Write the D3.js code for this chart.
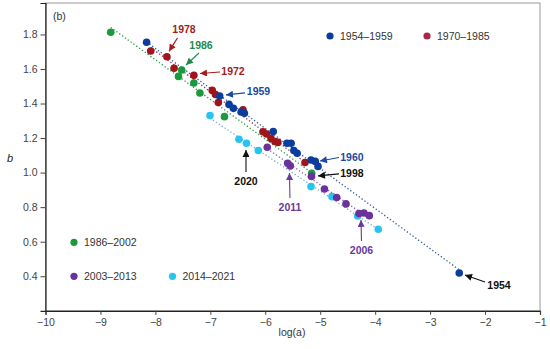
<!DOCTYPE html>
<html><head><meta charset="utf-8">
<script src="https://cdn.jsdelivr.net/npm/d3@7"></script>
<style>body{margin:0;background:#fff}svg{display:block;font-family:"Liberation Sans",Arial,sans-serif}</style>
</head><body><svg id="c" width="550" height="349"></svg>
<script>
// ---- data ----
const seriesNames = ["1954–1959","1970–1985","1986–2002","2003–2013","2014–2021"];
const blueX = [-8.16,-6.83,-6.66,-6.58,-6.44,-6.38,-5.855,-5.605,-5.53,-5.48,-5.42,-5.168,-5.09,-5.04,-2.47];
const blueY = [1.755,1.444,1.395,1.372,1.351,1.343,1.238,1.170,1.170,1.128,1.112,1.073,1.065,1.036,0.419];
const redX = [-8.085,-7.79,-7.66,-7.30,-6.965,-6.906,-6.855,-6.406,-6.042,-5.978,-5.896,-5.823,-5.77,-5.277];
const redY = [1.704,1.671,1.604,1.563,1.476,1.452,1.406,1.363,1.237,1.224,1.198,1.180,1.175,1.059];
const greenX = [-8.813,-7.52,-7.58,-7.30,-7.19,-6.743,-5.156];
const greenY = [1.813,1.594,1.557,1.519,1.461,1.324,0.996];
const purpleX = [-5.964,-5.592,-5.545,-5.159,-4.923,-4.70,-4.531,-4.295,-4.204,-4.107];
const purpleY = [1.147,1.054,1.039,0.978,0.905,0.856,0.819,0.763,0.766,0.751];
const cyanX = [-7.006,-6.479,-6.342,-6.127,-5.168,-4.786,-4.318,-3.943];
const cyanY = [1.331,1.193,1.170,1.128,0.919,0.861,0.749,0.672];
const xTicks = [-10,-9,-8,-7,-6,-5,-4,-3,-2,-1];
const yTicks = [0.4,0.6,0.8,1.0,1.2,1.4,1.6,1.8];
const annYears = ["1978","1986","1972","1959","1960","1998","2020","2011","2006","1954"];
const annTipX = [-7.752,-7.443,-7.188,-6.715,-5.005,-5.041,-6.351,-5.56,-4.258,-2.365];
const annTipY = [1.702,1.623,1.574,1.45,1.067,0.981,1.131,0.998,0.726,0.407];

// ---- styles / layout ----
const colors = {"1954–1959":"#0b3d9c","1970–1985":"#a0141c","1986–2002":"#1a9a3a","2003–2013":"#6a329c","2014–2021":"#28c3ef"};
const legendColors = {"1954–1959":"#0b3d9c","1970–1985":"#a8284a","1986–2002":"#1a9a3a","2003–2013":"#6a329c","2014–2021":"#28c3ef"};
const lineColors = {"1954–1959":"#2a5ea8","1970–1985":"#9a3040","1986–2002":"#2a9a4a","2003–2013":"#8a60b0","2014–2021":"#7ab0c8"};
const annColor = {"1978":"#a51c1c","1972":"#a51c1c","1986":"#1f8a4c","1959":"#1a4aa0","1960":"#1a4aa0","1998":"#111","2020":"#111","1954":"#111","2011":"#6a3a9a","2006":"#6a3a9a"};
const annTail = [[8.5,-13.5],[13,-12],[20,-1.5],[19,-2],[19,-3.5],[21,-2],[0,22],[0.5,25],[0.5,21],[20,7]];
const annText = [[15,-22.5],[15,-20],[33,-2.5],[32.5,-3.5],[32,-4],[34,-2.5],[0,31],[0.5,34],[0.5,30],[34,10]];

const series = [
  {name:"1986–2002", xs:greenX, ys:greenY},
  {name:"1970–1985", xs:redX, ys:redY},
  {name:"1954–1959", xs:blueX, ys:blueY},
  {name:"2014–2021", xs:cyanX, ys:cyanY},
  {name:"2003–2013", xs:purpleX, ys:purpleY}
];

const svg = d3.select("#c");
const x = d3.scaleLinear([-10,-1],[45.5,540]);
const y = d3.scaleLinear([0.2,1.982],[310.8,3]);

const defs = svg.append("defs");
Object.entries(annColor).forEach(([k,c])=>{
  defs.append("marker").attr("id","ah"+k).attr("viewBox","0 0 10 10").attr("refX",10).attr("refY",5)
    .attr("markerWidth",8).attr("markerHeight",7).attr("markerUnits","userSpaceOnUse").attr("orient","auto")
    .append("path").attr("d","M0,0L10,5L0,10z").attr("fill",c);
});

// frame
svg.append("rect").attr("x",45.5).attr("y",3).attr("width",494.5).attr("height",307.8)
  .attr("fill","none").attr("stroke","#999").attr("stroke-width",1);

// axes
const gx = svg.append("g").attr("transform","translate(0,310.8)")
  .call(d3.axisBottom(x).tickValues(xTicks).tickSize(4).tickPadding(4).tickFormat(d3.format("d")));
const gy = svg.append("g").attr("transform","translate(45.5,0)")
  .call(d3.axisLeft(y).tickValues(yTicks).tickSize(5).tickPadding(3).tickFormat(d3.format(".1f")));
[gx,gy].forEach(g=>{
  g.select(".domain").attr("stroke","#222").attr("stroke-width",1.2);
  g.selectAll(".tick line").attr("stroke","#444");
  g.selectAll(".tick text").attr("fill","#444").attr("font-size",10.5).attr("font-family","Liberation Sans, Arial, sans-serif");
});

svg.append("text").attr("x",292).attr("y",336).attr("text-anchor","middle").attr("font-size",10.5).attr("fill","#333").text("log(a)");
svg.append("text").attr("x",7).attr("y",162).attr("font-size",11).attr("font-style","italic").attr("fill","#222").text("b");
svg.append("text").attr("x",53).attr("y",20).attr("font-size",10.5).attr("fill","#333").text("(b)");

// fitted dotted lines
series.forEach(s=>{
  const n=s.xs.length, mx=d3.mean(s.xs), my=d3.mean(s.ys);
  let sxy=0,sxx=0; for(let i=0;i<n;i++){sxy+=(s.xs[i]-mx)*(s.ys[i]-my); sxx+=(s.xs[i]-mx)**2;}
  const k=sxy/sxx, b=my-k*mx;
  const [x0,x1]=d3.extent(s.xs);
  svg.append("line").attr("x1",x(x0)).attr("y1",y(k*x0+b)).attr("x2",x(x1)).attr("y2",y(k*x1+b))
    .attr("stroke",lineColors[s.name]).attr("stroke-width",1.3).attr("stroke-dasharray","1.3,2.2");
});

// points
series.forEach(s=>{
  svg.append("g").selectAll("circle").data(d3.range(s.xs.length)).join("circle")
    .attr("cx",i=>x(s.xs[i])).attr("cy",i=>y(s.ys[i])).attr("r",3.8).attr("fill",colors[s.name]);
});

// annotations
annYears.forEach((yr,i)=>{
  const tx=x(annTipX[i]), ty=y(annTipY[i]);
  svg.append("line").attr("x1",tx+annTail[i][0]).attr("y1",ty+annTail[i][1]).attr("x2",tx).attr("y2",ty)
    .attr("stroke",annColor[yr]).attr("stroke-width",1.1).attr("marker-end","url(#ah"+yr+")");
  svg.append("text").attr("x",tx+annText[i][0]).attr("y",ty+annText[i][1]).attr("dy","0.36em")
    .attr("text-anchor","middle").attr("font-size",10.5).attr("font-weight","bold").attr("fill",annColor[yr]).text(yr);
});

// legend
const legendPos = {"1954–1959":[330,36],"1970–1985":[427,36],"1986–2002":[74,242.3],"2003–2013":[74,276.3],"2014–2021":[172.5,276.3]};
seriesNames.forEach(nm=>{
  const [lx,ly]=legendPos[nm];
  svg.append("circle").attr("cx",lx).attr("cy",ly).attr("r",3.6).attr("fill",legendColors[nm]);
  svg.append("text").attr("x",lx+10).attr("y",ly).attr("dy","0.36em").attr("font-size",10.5).attr("fill","#333").text(nm);
});
</script></body></html>
